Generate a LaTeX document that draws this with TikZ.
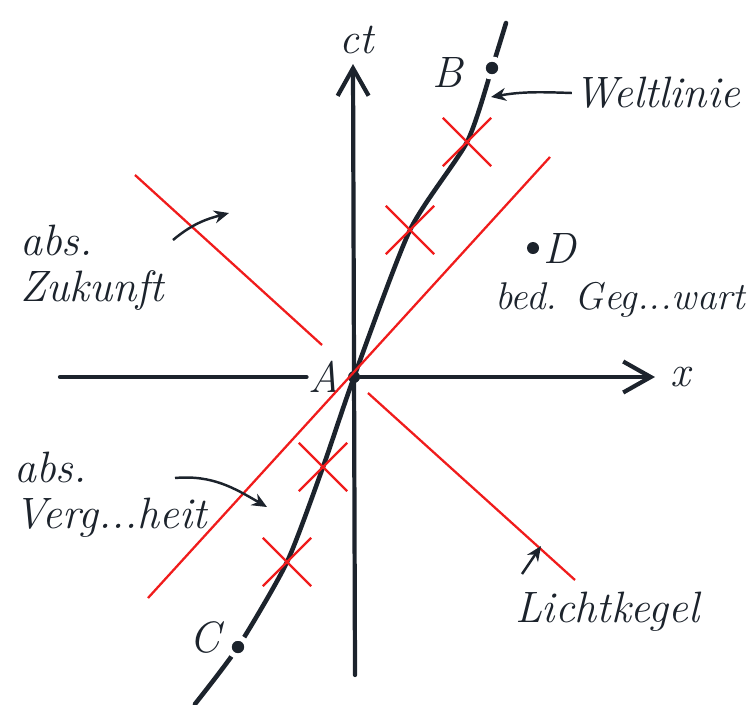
\documentclass[tikz,border=0pt]{standalone}
\usepackage{tikz}
\usetikzlibrary{positioning, shapes.misc, arrows.meta, calc, backgrounds}
\definecolor{tinte}{HTML}{1C232C}
\definecolor{kegelrot}{HTML}{F01C1C}

\begin{document}
\begin{tikzpicture}[
                x=0.02cm, y=-0.02cm,
                punkt/.style={circle, fill=tinte, inner sep=0pt, minimum size=0.24cm},
                lueckenpunkt/.style={circle, fill=tinte, draw=white, line width=3pt, inner sep=0pt, minimum size=0.36cm},
                kreuz/.style={draw=kegelrot, cross out, line width=1.3pt, inner sep=0pt, minimum size=0.92cm},
                achse/.style={draw=tinte, line width=2.4pt, line cap=round},
                spitze/.style={-{Straight Barb[length=0.55cm, width=0.62cm, line width=2.4pt]}},
                welt/.style={draw=tinte, line width=2.6pt, line cap=round},
                kegel/.style={draw=kegelrot, line width=1.3pt},
                zeiger/.style={draw=tinte, line width=1.4pt, -{Stealth[length=0.3cm, width=0.26cm]}},
                schrift/.style={font=\fontsize{25}{26}\selectfont\itshape, text=tinte, inner sep=1pt},
                kleinschrift/.style={schrift, font=\fontsize{22}{26}\selectfont\itshape}
            ]
            \useasboundingbox (0,0) rectangle (750,704);

            % Ereignisse
            \node[punkt] (A) at (354,377) {};
            \node[lueckenpunkt] (B) at (492,68) {};
            \node[lueckenpunkt] (C) at (238,647) {};
            \node[punkt] (D) at (533,248) {};

            % Kreuze auf der Weltlinie
            \node[kreuz] (K1) at (467,142) {};
            \node[kreuz] (K2) at (410,230) {};
            \node[kreuz] (K3) at (323,467) {};
            \node[kreuz] (K4) at (287,562) {};

            % Beschriftungen
            \node[schrift, left=0.1cm of A] (Alabel) {A};
            \node[schrift] (Blabel) at (448,72) {B};
            \node[schrift] (Clabel) at (205,637) {C};
            \node[schrift, right=0.05cm of D] (Dlabel) {D};
            \node[schrift] (ct) at (357,40) {ct};
            \node[schrift] (xlabel) at (680,377) {x};
            \node[schrift] (welt) at (657,93) {Weltlinie};
            \node[kleinschrift] (bed) at (620,300) {bed. Geg...wart};
            \node[schrift, align=left, anchor=west] (zukunft) at (18,268) {abs.\\Zukunft};
            \node[schrift, align=left, anchor=west] (vergangen) at (12,495) {abs.\\Verg...heit};
            \node[schrift] (licht) at (607,612) {Lichtkegel};

            % Hilfspunkte
            \coordinate (xl) at (60,377);
            \coordinate (xr) at (655,377);
            \coordinate (tu) at (355,675);
            \coordinate (tt) at (353,64);
            \coordinate (wu) at (195,704);
            \coordinate (wo) at (506,23);
            \coordinate (l1a) at (135,175);
            \coordinate (l1b) at (322,345);
            \coordinate (l1c) at (368,393);
            \coordinate (l1d) at (575,580);
            \coordinate (l2a) at (148,598);
            \coordinate (l2b) at (550,157);
            \coordinate (weltziel) at (491,97);
            \coordinate (zukstart) at (173,240);
            \coordinate (zukziel) at (229,213);
            \coordinate (vergstart) at (175,478);
            \coordinate (vergziel) at (267,507);
            \coordinate (lichtstart) at (522,574);
            \coordinate (lichtziel) at (541,546);

            % Weltlinie hinter den Punkten
            \begin{scope}[on background layer]
                \draw[welt] plot[smooth, tension=0.4] coordinates {(wu) (C.center) (K4.center) (K3.center) (A.center) (K2.center) (K1.center) (B.center) (wo)};
            \end{scope}

            % Achsen
            \draw[achse] (xl) -- (Alabel);
            \draw[achse, spitze] (A) -- (xr);
            \draw[achse, spitze] (tu) -- (tt);

            % Lichtkegel
            \draw[kegel] (l1a) -- (l1b);
            \draw[kegel] (l1c) -- (l1d);
            \draw[kegel] (l2a) -- (l2b);

            % Zeiger
            \draw[zeiger] (welt.west) to[out=178, in=10] (weltziel);
            \draw[zeiger] (zukstart) to[out=40, in=195] (zukziel);
            \draw[zeiger] (vergstart) to[out=5, in=150] (vergziel);
            \draw[zeiger] (lichtstart) -- (lichtziel);

        \end{tikzpicture}
\end{document}
